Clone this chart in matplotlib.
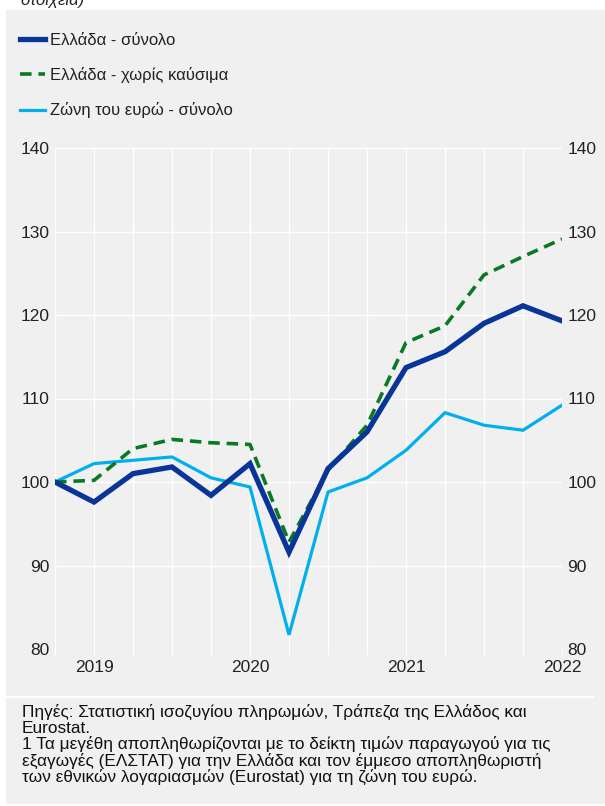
import matplotlib
matplotlib.use("Agg")
import matplotlib.pyplot as plt
from matplotlib.lines import Line2D
from matplotlib.patches import Rectangle

plt.rcParams["font.family"] = ["Liberation Sans", "DejaVu Sans"]

# τρίμηνα: βάση 2018Τ4 = 100
periods = ["2018Q4",
           "2019Q1", "2019Q2", "2019Q3", "2019Q4",
           "2020Q1", "2020Q2", "2020Q3", "2020Q4",
           "2021Q1", "2021Q2", "2021Q3", "2021Q4",
           "2022Q1"]
greece_total = [100.0, 97.6, 101.0, 101.8, 98.4, 102.2, 91.6,
                101.6, 106.0, 113.7, 115.6, 119.0, 121.1, 119.3]
greece_ex_fuel = [100.0, 100.2, 104.0, 105.1, 104.7, 104.5, 92.8,
                  101.4, 106.8, 116.7, 118.7, 124.8, 127.0, 129.1]
euro_area = [100.0, 102.2, 102.6, 103.0, 100.5, 99.4, 81.7,
             98.8, 100.5, 103.8, 108.3, 106.8, 106.2, 109.2]

series_labels = ["Ελλάδα - σύνολο", "Ελλάδα - χωρίς καύσιμα", "Ζώνη του ευρώ - σύνολο"]
y_ticks = [80, 90, 100, 110, 120, 130, 140]

footnote_lines = [
    "Πηγές: Στατιστική ισοζυγίου πληρωμών, Τράπεζα της Ελλάδος και",
    "Eurostat.",
    "1 Τα μεγέθη αποπληθωρίζονται με το δείκτη τιμών παραγωγού για τις",
    "εξαγωγές (ΕΛΣΤΑΤ) για την Ελλάδα και τον έμμεσο αποπληθωριστή",
    "των εθνικών λογαριασμών (Eurostat) για τη ζώνη του ευρώ.",
]

W, H = 605, 806
BG = "#f0f0f0"
fig = plt.figure(figsize=(W / 100, H / 100), dpi=100)
fig.patch.set_facecolor("white")


def px(x, y):
    return x / W, 1 - y / H


# γκρι πλαίσια
fig.add_artist(Rectangle(px(6, 803), (W - 6) / W, (803 - 10) / H,
                         transform=fig.transFigure, color=BG, zorder=-10))
fig.add_artist(Line2D([6 / W, 593 / W], [1 - 697 / H] * 2,
                      transform=fig.transFigure, color="white", lw=1.6))

l, b = px(55, 649)
r, t = px(562, 148)
ax = fig.add_axes([l, b, r - l, t - b])
ax.set_facecolor(BG)
x = list(range(len(periods)))

ax.plot(x, euro_area, color="#00b0ee", lw=2.3, label=series_labels[2], zorder=3,
        solid_joinstyle="miter")
ax.plot(x, greece_ex_fuel, color="#0a7a22", lw=2.6, ls=(0, (3.2, 1.9)),
        label=series_labels[1], zorder=4)
ax.plot(x, greece_total, color="#083597", lw=3.8, label=series_labels[0], zorder=5,
        solid_joinstyle="miter")

ax.set_xlim(0, len(periods) - 1)
ax.set_ylim(80, 140)
ax.set_yticks(y_ticks)
ax.set_xticks(x)
ax.set_xticklabels([p[:4] if p.endswith("Q1") else "" for p in periods])
ax.grid(True, color="white", lw=1.0)
ax.set_axisbelow(True)
for s in ax.spines.values():
    s.set_visible(False)
ax.tick_params(axis="x", length=5, width=1.0, color="white", pad=3,
               labelsize=12.5, labelcolor="#222222")
ax.tick_params(axis="y", length=0, pad=4, labelsize=12.5, labelcolor="#222222",
               left=True, right=True, labelleft=True, labelright=True)

# υπόμνημα
h, lab = ax.get_legend_handles_labels()
order = [2, 1, 0]
leg = fig.legend([h[i] for i in order], [lab[i] for i in order],
                 loc="upper left", bbox_to_anchor=px(20, 33), frameon=False,
                 fontsize=12, handlelength=1.5, handletextpad=0.3,
                 labelspacing=1.15, borderpad=0, borderaxespad=0)
for txt in leg.get_texts():
    txt.set_color("#222222")

# κομμένος τίτλος πάνω
fig.text(*px(20, 5), "στοιχεία)", fontsize=12, style="italic",
         color="#222222", va="baseline", ha="left")

# σημειώσεις
for i, line in enumerate(footnote_lines):
    fig.text(*px(22, 717 + i * 16.2), line, fontsize=12.4, color="#111111",
             va="baseline", ha="left")

fig.savefig("out.png", dpi=100, facecolor=fig.get_facecolor())
